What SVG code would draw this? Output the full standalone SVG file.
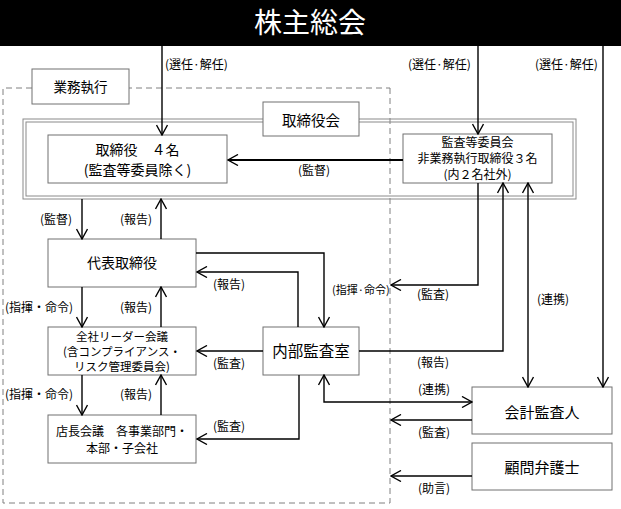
<svg xmlns="http://www.w3.org/2000/svg" width="621" height="509" viewBox="0 0 621 509">
<style>
text{font-family:"Noto Sans CJK JP","Noto Sans",sans-serif;fill:#000}
.box{fill:#fff;stroke:#707070;stroke-width:1}
.t{font-size:14px;text-anchor:middle}
.s{font-size:12px;text-anchor:middle}
.lb{font-size:12px}
.ln{fill:none;stroke:#000;stroke-width:1.4}
.dbl{fill:none;stroke:#8a8a8a;stroke-width:1}
</style>
<defs>
<marker id="ah" viewBox="0 0 12 12" refX="11" refY="6" markerWidth="12" markerHeight="12" markerUnits="userSpaceOnUse" orient="auto-start-reverse">
<path d="M1,0.5 L11,6 L1,11.5" fill="none" stroke="#000" stroke-width="1.4"/>
</marker>
</defs>
<rect width="621" height="509" fill="#fff"/>

<g id="shareholders">
<rect x="0" y="0" width="621" height="46" fill="#000"/>
<text x="310" y="33" style="font-size:28px;fill:#fff;text-anchor:middle">株主総会</text>
</g>

<g id="execution">
<path d="M390,88 L390,503 L3,503 L3,88 Z" fill="none" stroke="#808080" stroke-width="1" stroke-dasharray="6,4"/>
<rect class="box" x="32" y="69" width="97" height="35"/>
<text x="80.5" y="92" style="font-size:13.5px;text-anchor:middle">業務執行</text>
</g>

<g id="board">
<rect class="dbl" x="23" y="119" width="553" height="80"/>
<rect class="dbl" x="26" y="122" width="547" height="74"/>
<rect class="box" x="263" y="102" width="96" height="34"/>
<text class="t" x="311" y="126" style="font-size:14.5px">取締役会</text>
</g>

<g id="directors">
<rect class="box" x="48" y="135" width="179" height="48"/>
<text class="t" x="137.5" y="155">取締役　４名</text>
<text class="t" x="137.5" y="175">(監査等委員除く)</text>
</g>

<g id="audit-committee">
<rect class="box" x="403" y="134" width="149" height="49"/>
<text class="s" x="477.5" y="147">監査等委員会</text>
<text class="s" x="477.5" y="163">非業務執行取締役３名</text>
<text class="s" x="477.5" y="179">(内２名社外)</text>
</g>

<g id="representative">
<rect class="box" x="48" y="239" width="148" height="48"/>
<text class="t" x="122" y="268">代表取締役</text>
</g>

<g id="leaders-meeting">
<rect class="box" x="48" y="327" width="148" height="48"/>
<text class="s" x="122" y="341" style="font-size:11.5px">全社リーダー会議</text>
<text class="s" x="122" y="356" style="font-size:11.5px">(含コンプライアンス・</text>
<text class="s" x="122" y="371" style="font-size:11.5px">リスク管理委員会)</text>
</g>

<g id="store-meeting">
<rect class="box" x="48" y="415" width="148" height="48"/>
<text class="s" x="122" y="436">店長会議　各事業部門・</text>
<text class="s" x="122" y="453">本部・子会社</text>
</g>

<g id="internal-audit">
<rect class="box" x="263" y="327" width="96" height="48"/>
<text class="t" x="311" y="357" style="font-size:15.5px">内部監査室</text>
</g>

<g id="accounting-auditor">
<rect class="box" x="472" y="387" width="140" height="47"/>
<text class="t" x="542" y="418" style="font-size:15px">会計監査人</text>
</g>

<g id="legal-advisor">
<rect class="box" x="472" y="443" width="140" height="47"/>
<text class="t" x="542" y="473" style="font-size:15px">顧問弁護士</text>
</g>

<g id="connectors">
<path class="ln" d="M162,46 L162,135" marker-end="url(#ah)"/>
<path class="ln" d="M478,46 L478,134" marker-end="url(#ah)"/>
<path class="ln" d="M603,46 L603,387" marker-end="url(#ah)"/>
<path class="ln" d="M403,160 L228,160" marker-end="url(#ah)" style="stroke-width:2"/>
<path class="ln" d="M478,183 L478,285 L391,285" marker-end="url(#ah)"/>
<path class="ln" d="M359,351 L503,351 L503,183" marker-end="url(#ah)"/>
<path class="ln" d="M528,183 L528,387" marker-start="url(#ah)" marker-end="url(#ah)"/>
<path class="ln" d="M82,199 L82,239" marker-end="url(#ah)"/>
<path class="ln" d="M161,239 L161,199" marker-end="url(#ah)"/>
<path class="ln" d="M82,287 L82,327" marker-end="url(#ah)"/>
<path class="ln" d="M161,327 L161,287" marker-end="url(#ah)"/>
<path class="ln" d="M82,375 L82,415" marker-end="url(#ah)"/>
<path class="ln" d="M161,415 L161,375" marker-end="url(#ah)"/>
<path class="ln" d="M196,253 L324,253 L324,327" marker-end="url(#ah)"/>
<path class="ln" d="M298,327 L298,272 L197,272" marker-end="url(#ah)"/>
<path class="ln" d="M263,351 L197,351" marker-end="url(#ah)"/>
<path class="ln" d="M299,375 L299,439 L197,439" marker-end="url(#ah)"/>
<path class="ln" d="M324,375 L324,402 L472,402" marker-start="url(#ah)" marker-end="url(#ah)"/>
<path class="ln" d="M472,420 L391,420" marker-end="url(#ah)"/>
<path class="ln" d="M472,476 L391,476" marker-end="url(#ah)"/>

<text class="lb" x="165" y="69">(選任·解任)</text>
<text class="lb" x="408" y="69">(選任·解任)</text>
<text class="lb" x="535" y="69">(選任·解任)</text>
<text class="lb" x="298" y="175">(監督)</text>
<text class="lb" x="40" y="224">(監督)</text>
<text class="lb" x="120" y="224">(報告)</text>
<text class="lb" x="5" y="312">(指揮・命令)</text>
<text class="lb" x="120" y="312">(報告)</text>
<text class="lb" x="5" y="399">(指揮・命令)</text>
<text class="lb" x="120" y="399">(報告)</text>
<text class="lb" x="213" y="289">(報告)</text>
<text class="lb" x="332" y="294" style="font-size:11px">(指揮·命令)</text>
<text class="lb" x="417" y="299">(監査)</text>
<text class="lb" x="537" y="304">(連携)</text>
<text class="lb" x="213" y="368">(監査)</text>
<text class="lb" x="417" y="367">(報告)</text>
<text class="lb" x="213" y="431">(監査)</text>
<text class="lb" x="418" y="394">(連携)</text>
<text class="lb" x="418" y="437">(監査)</text>
<text class="lb" x="418" y="493">(助言)</text>
</g>
</svg>
